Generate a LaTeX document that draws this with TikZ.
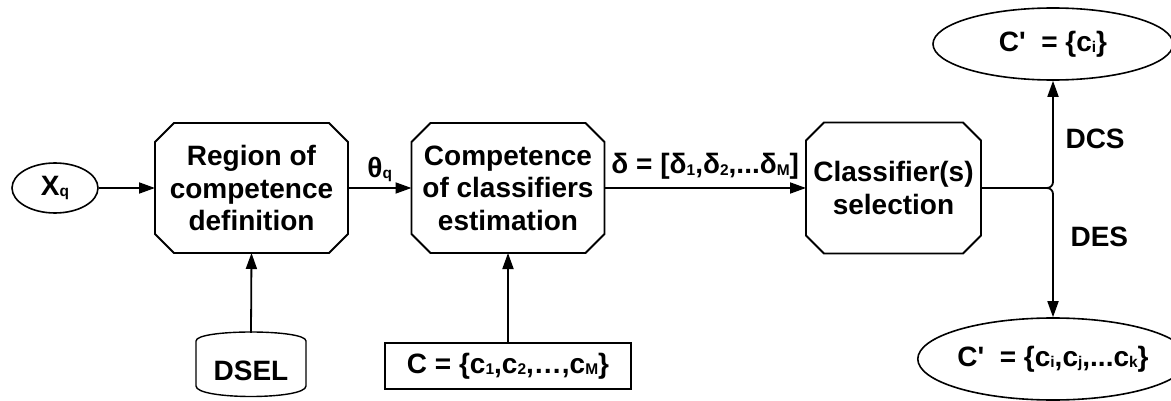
\documentclass[tikz,border=0pt]{standalone}
\usepackage{fontspec}
\setmainfont{Liberation Sans}
\usetikzlibrary{arrows.meta,shapes.geometric}
% small subscript set at roughly the baseline
\newcommand\lowsub[1]{\raisebox{-1.5pt}{\fontsize{15.5}{15.5}\selectfont #1}}
% octagonal outline around a named node, with corners cut by #2
\newcommand\octoutline[2]{%
  \draw[line width=1.8pt]
    ([xshift=#2]#1.north west) -- ([xshift=-#2]#1.north east)
    -- ([yshift=-#2]#1.north east) -- ([yshift=#2]#1.south east)
    -- ([xshift=-#2]#1.south east) -- ([xshift=#2]#1.south west)
    -- ([yshift=#2]#1.south west) -- ([yshift=-#2]#1.north west) -- cycle;}
\begin{document}
\begin{tikzpicture}[x=1pt,y=-1pt,
  every node/.style={font=\fontsize{28}{32.5}\selectfont\bfseries, align=center},
  arrow/.style={line width=1.8pt, -{Triangle[length=16pt,width=11pt]}},
  octbox/.style={rectangle, inner sep=0pt, outer sep=0pt},
  oval/.style={ellipse, draw, line width=1.6pt, inner sep=0pt}]
\useasboundingbox (0,0) rectangle (1171,401);

% input sample
\node[oval, minimum width=86pt, minimum height=50pt] (xq) at (55,188) {X\lowsub{q}};

% processing stages
\node[octbox, minimum width=193pt, minimum height=130pt] (reg) at (251.5,188)
  {Region of\\competence\\definition};
\node[octbox, minimum width=193pt, minimum height=130pt] (est) at (508,188)
  {Competence\\of classifiers\\estimation};
\node[octbox, minimum width=175pt, minimum height=131pt] (sel) at (893.5,188)
  {Classifier(s)\\selection};
\octoutline{reg}{19pt}
\octoutline{est}{19pt}
\octoutline{sel}{18pt}

% data store for DSEL
\node[minimum width=110pt, minimum height=64pt, inner sep=0pt] (dsel) at (251,365) {};
\draw[line width=1.4pt] (196,341) -- (196,386)
  .. controls (196,400) and (306,400) .. (306,386) -- (306,341)
  .. controls (306,329) and (196,329) .. (196,341);
\node at (251,371) {DSEL};

% pool of classifiers
\node[draw, line width=1.8pt, minimum width=246pt, minimum height=46pt, inner sep=0pt]
  (pool) at (508,366) {C = \{c\lowsub{1},c\lowsub{2},…,c\lowsub{M}\}};

% selected ensembles
\node[oval, minimum width=240pt, minimum height=72pt] (one) at (1053,44)
  {C\textquotesingle\ \ = \{c\lowsub{i}\}};
\node[oval, minimum width=240pt, minimum height=82pt] (many) at (1053,359)
  {C\textquotesingle\ \ = \{c\lowsub{i},c\lowsub{j},...c\lowsub{k}\}};

% connectors
\draw[arrow] (xq) -- (reg);
\draw[arrow] (reg) -- node[above=2pt] {θ\lowsub{q}} (est);
\draw[arrow] (est) -- node[above=4pt] {δ = [δ\lowsub{1},δ\lowsub{2},...δ\lowsub{M}]} (sel);
\draw[arrow] (dsel.north) -- (reg.south);
\draw[arrow] (pool.north) -- (est.south);
\draw[arrow, rounded corners=6pt] (sel.east) -| (one.south);
\draw[arrow, rounded corners=6pt] (sel.east) -| (many.north);

% branch labels
\node[anchor=west] at (1062,139) {DCS};
\node[anchor=west] at (1067,237) {DES};
\end{tikzpicture}
\end{document}
